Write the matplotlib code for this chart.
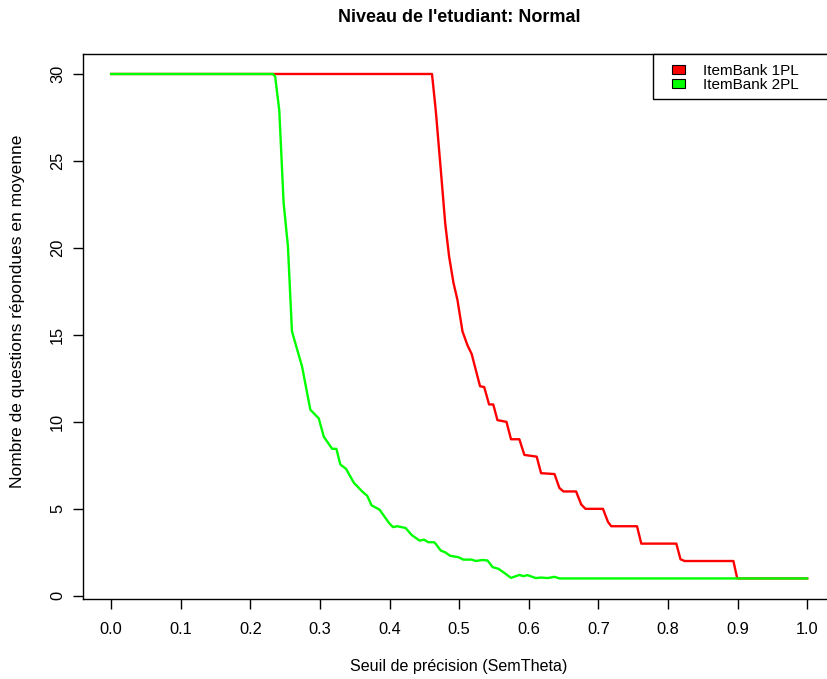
import matplotlib.pyplot as plt
from matplotlib.patches import Patch, Rectangle

plt.rcParams['font.family'] = ['Liberation Sans', 'DejaVu Sans']

# Mean number of answered questions vs precision threshold
red_x = [0.0, 0.461, 0.4664, 0.4736, 0.480, 0.4856, 0.4918, 0.4976, 0.5048, 0.512,
         0.518, 0.530, 0.536, 0.543, 0.549, 0.555, 0.568, 0.5745, 0.5865, 0.5937,
         0.6114, 0.6177, 0.637, 0.644, 0.6498, 0.668, 0.6754, 0.6815, 0.7066, 0.7138,
         0.7185, 0.7555, 0.7617, 0.812, 0.818, 0.824, 0.894, 0.8995, 1.0]
red_y = [30, 30, 27.9, 24.5, 21.4, 19.5, 18.0, 17.0, 15.2, 14.4,
         13.9, 12.05, 12.0, 11.0, 11.0, 10.1, 10.0, 9.0, 9.0, 8.1,
         8.0, 7.05, 7.0, 6.2, 6.0, 6.0, 5.25, 5.0, 5.0, 4.25,
         4.0, 4.0, 3.0, 3.0, 2.1, 2.0, 2.0, 1.0, 1.0]

green_x = [0.0, 0.2325, 0.2357, 0.2416, 0.2478, 0.254, 0.2598, 0.2742, 0.2862, 0.2983,
           0.3055, 0.3175, 0.3236, 0.3293, 0.3375, 0.3487, 0.3607, 0.3679, 0.3742, 0.3857,
           0.399, 0.4049, 0.411, 0.423, 0.4317, 0.4432, 0.4495, 0.4557, 0.464, 0.4665,
           0.4736, 0.48, 0.487, 0.499, 0.506, 0.518, 0.524, 0.5334, 0.5408, 0.548,
           0.5566, 0.5648, 0.5745, 0.5865, 0.592, 0.598, 0.610, 0.6177, 0.627, 0.637,
           0.644, 1.0]
green_y = [30, 30, 29.85, 27.9, 22.6, 20.1, 15.2, 13.2, 10.7, 10.2,
           9.15, 8.45, 8.45, 7.55, 7.3, 6.5, 6.0, 5.75, 5.2, 4.95,
           4.2, 3.95, 4.0, 3.9, 3.5, 3.17, 3.23, 3.08, 3.08, 2.98,
           2.6, 2.5, 2.3, 2.22, 2.08, 2.08, 2.0, 2.06, 2.03, 1.65,
           1.55, 1.32, 1.03, 1.2, 1.13, 1.19, 1.02, 1.05, 1.02, 1.09,
           1.0, 1.0]

series_labels = ['ItemBank 1PL', 'ItemBank 2PL']
x_ticks = [i / 10 for i in range(11)]
y_ticks = [0, 5, 10, 15, 20, 25, 30]

fig = plt.figure(figsize=(8.27, 6.79), dpi=100)
ax = fig.add_axes([0.1007, 0.1174, 0.909, 0.8031])

ax.plot(red_x, red_y, color='#FF0000', lw=1.7)
ax.plot(green_x, green_y, color='#00FF00', lw=1.7)

ax.set_xlim(-0.04, 1.04)
ax.set_ylim(-0.2, 31.15)
ax.set_xticks(x_ticks)
ax.set_xticklabels(['%.1f' % t for t in x_ticks], fontsize=11.8)
ax.set_yticks(y_ticks)
ax.set_yticklabels([str(t) for t in y_ticks], fontsize=11.8, rotation=90, va='center')
ax.tick_params(length=7, width=1)
ax.tick_params(axis='x', pad=9)
ax.tick_params(axis='y', pad=6)
for s in ax.spines.values():
    s.set_linewidth(1)

ax.set_title("Niveau de l'etudiant: Normal", fontsize=13, fontweight='bold', pad=23)
ax.set_xlabel('Seuil de précision (SemTheta)', fontsize=11.6, labelpad=16)
ax.set_ylabel('Nombre de questions répondues en moyenne', fontsize=12.5)
ax.yaxis.set_label_coords(-0.077, 0.529)

# legend box drawn like R's: anchored at top-right corner of the plot
ax.add_patch(Rectangle((0.758, 0.9175), 0.3, 0.0825, transform=ax.transAxes,
                       facecolor='white', edgecolor='black', lw=1, zorder=4,
                       clip_on=False))
handles = [Patch(facecolor='#FF0000', edgecolor='black', lw=0.8),
           Patch(facecolor='#00FF00', edgecolor='black', lw=0.8)]
leg = ax.legend(handles, series_labels, loc='upper left',
                bbox_to_anchor=(0.7832, 0.9816), borderaxespad=0, borderpad=0,
                frameon=False, fontsize=11,
                handlelength=0.85, handleheight=0.5, handletextpad=1.2,
                labelspacing=0.0)
leg.set_zorder(5)

fig.savefig('out.png', dpi=100)
